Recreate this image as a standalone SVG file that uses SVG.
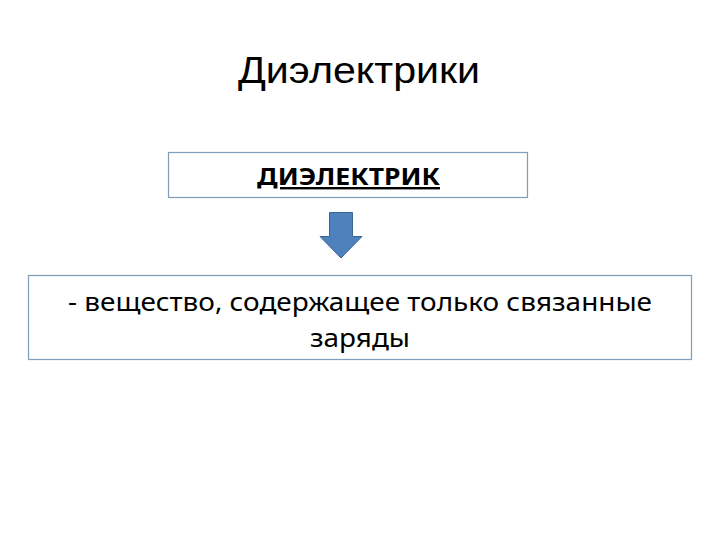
<svg xmlns="http://www.w3.org/2000/svg" width="720" height="540" viewBox="0 0 720 540">
<style>
.box{fill:#fff;stroke:#7f9db9;stroke-width:1.2}
.t{font-family:"Noto Sans","Open Sans","Liberation Sans",sans-serif;fill:#000;text-anchor:middle}
</style>
<rect width="720" height="540" fill="#fff"/>
<text x="359" y="83" font-family="'Liberation Sans',Arial,sans-serif" font-size="36" text-anchor="middle" textLength="242" lengthAdjust="spacingAndGlyphs">Диэлектрики</text>
<g id="node-dielectric">
<rect class="box" x="168.5" y="152.5" width="359" height="45"/>
<text class="t" x="348.5" y="185" font-size="24" font-weight="bold" text-decoration="underline" textLength="183" lengthAdjust="spacingAndGlyphs">ДИЭЛЕКТРИК</text>
</g>
<g id="connectors">
<path d="M329.5 212.5 H352.5 V236.5 H362 L341 258 L320 236.5 H329.5 Z" fill="#4f81bd" stroke="#3a6496" stroke-width="1"/>
</g>
<g id="node-definition">
<rect class="box" x="28.5" y="275.5" width="663" height="84"/>
<text class="t" x="360" y="311" font-size="26" textLength="584" lengthAdjust="spacingAndGlyphs">- вещество, содержащее только связанные</text>
<text class="t" x="360" y="347" font-size="26" textLength="100" lengthAdjust="spacingAndGlyphs">заряды</text>
</g>
</svg>
